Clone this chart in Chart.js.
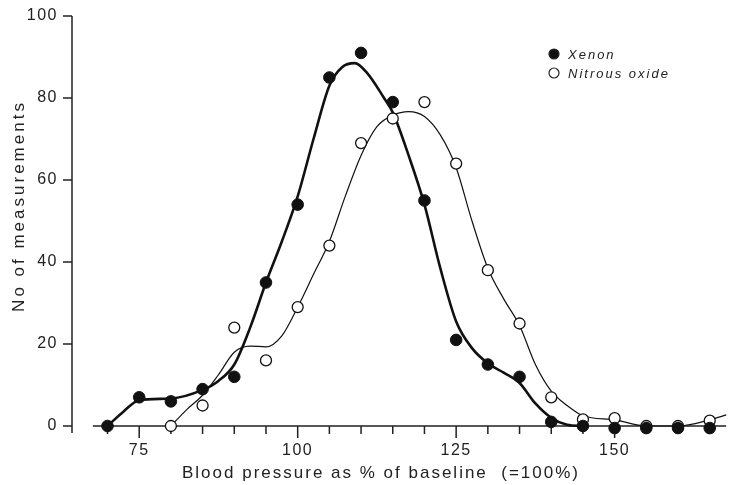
<!DOCTYPE html>
<html>
<head>
<meta charset="utf-8">
<script src="https://cdn.jsdelivr.net/npm/chart.js@4.4.0/dist/chart.umd.min.js"></script>
<style>
  html, body { margin: 0; padding: 0; background: #fff; }
</style>
</head>
<body>
<canvas id="chart" width="733" height="485"></canvas>
<script>
// --- DATA ---
const xTickValues = [70, 75, 80, 85, 90, 95, 100, 105, 110, 115, 120, 125, 130, 135, 140, 145, 150, 155, 160, 165];
const xTickLabels = [75, 100, 125, 150];
const yTickValues = [0, 20, 40, 60, 80, 100];
const xRange = [64.4, 167.6];
const xAxisStart = 67.7;

// measured points
const xenonX = [70, 75, 80, 85, 90, 95, 100, 105, 110, 115, 120, 125, 130, 135, 140, 145, 150, 155, 160, 165];
const xenonY = [0, 7, 6, 9, 12, 35, 54, 85, 91, 79, 55, 21, 15, 12, 1, 0, -0.5, -0.5, -0.5, -0.5];
const nitrousX = [80, 85, 90, 95, 100, 105, 110, 115, 120, 125, 130, 135, 140, 145, 150, 155, 160, 165];
const nitrousY = [0, 5, 24, 16, 29, 44, 69, 75, 79, 64, 38, 25, 7, 1.6, 1.9, 0, 0, 1.3];

// fitted curves
const xenonFitX = [70, 72.5, 75, 80, 85, 87.5, 90, 92.5, 95, 97.5, 100, 102.5, 105, 107, 109, 111, 113.5, 115, 117.5, 120, 122.5, 125, 127.5, 130, 132.5, 135, 137.5, 140, 142.5, 145];
const xenonFitY = [0, 3.5, 6.3, 6.7, 8.8, 11, 15, 24, 35, 45, 56, 70, 83, 87.5, 88.5, 86, 80.3, 76.5, 66, 54, 38.5, 25.5, 19, 15.3, 13, 10.5, 5.5, 2, 0.3, 0];
const nitrousFitX = [80, 82.5, 85, 87.5, 90, 92.5, 95, 97.5, 100, 102.5, 105, 107.5, 110, 112.5, 115, 117.5, 120, 122.5, 125, 127.5, 130, 132.5, 135, 137.5, 140, 142.5, 145, 150, 155, 160, 165, 167.6];
const nitrousFitY = [0, 4, 7.5, 12.5, 18, 19.5, 19.3, 22, 29, 37, 45, 56, 66, 73, 75.8, 76.7, 75.5, 71, 63, 50, 38.5, 31, 24.5, 15, 8.5, 5, 2.5, 1.5, 0, 0, 1.5, 2.7];

const toXY = (xs, ys) => xs.map((x, i) => ({ x: x, y: ys[i] }));
const INK = '#222';

// axes, ticks, titles and legend drawn by hand to match the scanned figure
const figurePlugin = {
  id: 'figure',
  beforeDraw(chart) {
    chart.ctx.letterSpacing = '1.5px';
  },
  beforeDatasetsDraw(chart) {
    const ctx = chart.ctx, sx = chart.scales.x, sy = chart.scales.y;
    const ax = sx.getPixelForValue(sx.min);
    const ay = sy.getPixelForValue(0);
    ctx.save();
    ctx.strokeStyle = INK;
    ctx.lineWidth = 1.5;
    ctx.beginPath();
    // y axis + ticks
    ctx.moveTo(ax, sy.getPixelForValue(100));
    ctx.lineTo(ax, ay + 7);
    yTickValues.forEach(v => {
      const py = sy.getPixelForValue(v);
      ctx.moveTo(ax - 9, py);
      ctx.lineTo(ax, py);
    });
    // x axis + ticks
    ctx.moveTo(sx.getPixelForValue(xAxisStart), ay);
    ctx.lineTo(sx.right, ay);
    xTickValues.forEach(v => {
      const px = sx.getPixelForValue(v);
      ctx.moveTo(px, ay);
      ctx.lineTo(px, ay + (xTickLabels.includes(v) ? 12 : 8));
    });
    ctx.stroke();
    ctx.restore();
  },
  afterDraw(chart) {
    const ctx = chart.ctx;
    ctx.save();
    ctx.fillStyle = INK;
    // x title
    ctx.font = '17px "Liberation Sans", Arial, sans-serif';
    ctx.letterSpacing = '2px';
    ctx.textAlign = 'center';
    ctx.textBaseline = 'alphabetic';
    ctx.fillText('Blood pressure as % of baseline  (=100%)', 381, 478);
    // y title
    ctx.save();
    ctx.translate(24, 206);
    ctx.rotate(-Math.PI / 2);
    ctx.letterSpacing = '3px';
    ctx.fillText('No of measurements', 0, 0);
    ctx.restore();
    // legend
    const items = chart.data.datasets.filter(d => d.legend);
    ctx.font = 'italic 13px "Liberation Sans", Arial, sans-serif';
    ctx.letterSpacing = '2px';
    ctx.textAlign = 'left';
    ctx.textBaseline = 'middle';
    items.forEach((d, i) => {
      const yy = 54 + i * 19;
      ctx.beginPath();
      ctx.arc(554, yy, 5, 0, Math.PI * 2);
      ctx.fillStyle = d.backgroundColor;
      ctx.fill();
      ctx.lineWidth = 1.2;
      ctx.strokeStyle = INK;
      ctx.stroke();
      ctx.fillStyle = INK;
      ctx.fillText(d.label, 568, yy + 1);
    });
    ctx.restore();
  }
};

new Chart(document.getElementById('chart'), {
  type: 'scatter',
  data: {
    datasets: [
      {
        label: 'Xenon', legend: true,
        data: toXY(xenonX, xenonY),
        backgroundColor: '#111', borderColor: '#111', borderWidth: 1,
        pointRadius: 5.8, showLine: false, clip: false
      },
      {
        label: 'Nitrous oxide', legend: true,
        data: toXY(nitrousX, nitrousY),
        backgroundColor: '#fff', borderColor: '#111', borderWidth: 1.3,
        pointRadius: 5.5, showLine: false, clip: false
      },
      {
        label: 'Xenon fit',
        data: toXY(xenonFitX, xenonFitY),
        showLine: true, borderColor: '#111', borderWidth: 2.6,
        pointRadius: 0, cubicInterpolationMode: 'monotone', clip: false
      },
      {
        label: 'Nitrous oxide fit',
        data: toXY(nitrousFitX, nitrousFitY),
        showLine: true, borderColor: '#111', borderWidth: 1.2,
        pointRadius: 0, cubicInterpolationMode: 'monotone', clip: false
      }
    ]
  },
  options: {
    responsive: false,
    animation: false,
    layout: { padding: { top: 16, right: 0, left: 0, bottom: 0 } },
    plugins: { legend: { display: false }, tooltip: { enabled: false } },
    scales: {
      x: {
        type: 'linear', min: xRange[0], max: xRange[1],
        grid: { display: false, drawTicks: false },
        border: { display: false },
        afterBuildTicks: s => { s.ticks = xTickLabels.map(v => ({ value: v })); },
        afterFit: s => { s.height = 59; s.paddingLeft = 0; s.paddingRight = 0; },
        ticks: { color: INK, padding: 15, maxRotation: 0, font: { family: '"Liberation Sans", Arial, sans-serif', size: 16 } }
      },
      y: {
        min: 0, max: 100,
        grid: { display: false, drawTicks: false },
        border: { display: false },
        afterBuildTicks: s => { s.ticks = yTickValues.map(v => ({ value: v })); },
        afterFit: s => { s.width = 72; s.paddingTop = 0; s.paddingBottom = 0; },
        ticks: { color: INK, padding: 14, font: { family: '"Liberation Sans", Arial, sans-serif', size: 16 } }
      }
    }
  },
  plugins: [figurePlugin]
});
</script>
</body>
</html>
